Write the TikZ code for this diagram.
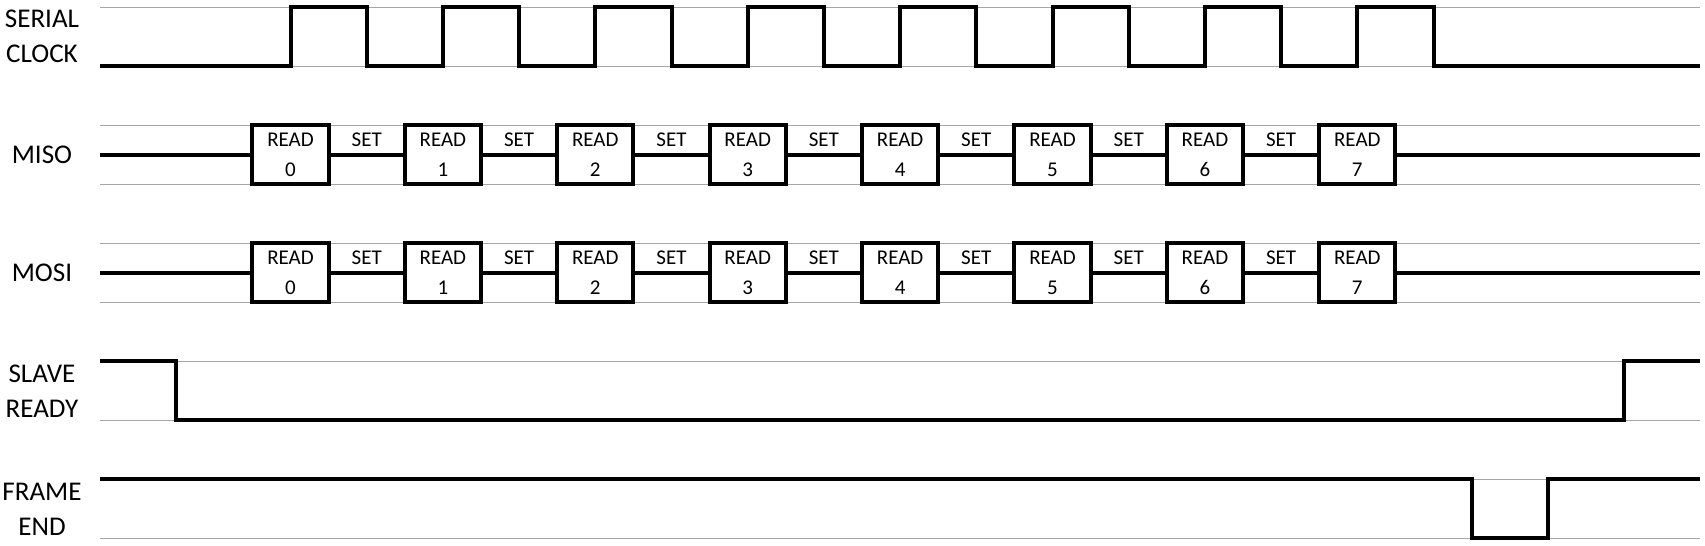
\documentclass[tikz,border=0pt]{standalone}
\usepackage{fontspec}
\setmainfont{Carlito}
\usetikzlibrary{calc}
\tikzset{
	gridline/.style={line width=0.02cm, color=black!35},
	sig/.style={line width=0.08cm, line join=miter},
	siglabel/.style={inner sep=0, align=center, font=\fontsize{15.4}{19.9}\selectfont},
	bitbox/.style={draw, line width=0.08cm, minimum width=1.524cm, minimum height=1.181cm, inner sep=0, align=center, font=\fontsize{11.95}{17.07}\selectfont},
	bittext/.style={inner sep=0, font=\fontsize{11.95}{17.07}\selectfont}
}

\begin{document}
\begin{tikzpicture}[x=0.02cm, y=-0.02cm]
			%%%%% START %%%%%
			\useasboundingbox (0,0) rectangle (1705,545);
			
			\foreach \i in {0,...,9}
				\draw[gridline] (100,{7+59.04*\i}) -- (1700,{7+59.04*\i});
			
			\node[siglabel] (clk) at (42, 36.5) {SERIAL\\CLOCK};
			\node[siglabel] (miso) at (42, 154.6) {MISO};
			\node[siglabel] (mosi) at (42, 272.7) {MOSI};
			\node[siglabel] (rdy) at (42, 390.8) {SLAVE\\READY};
			\node[siglabel] (fend) at (42, 508.9) {FRAME\\END};
			
			\draw[sig] (100, 66) \foreach \k in {0,...,7} {-- ({290.5+152.4*\k}, 66) -- ++(0,-59) -- ++(76.2,0) -- ++(0,59)} -- (1700, 66);
			
			\foreach \k in {0,...,7} {
				\node[bitbox] (mi\k) at ({290.5+152.4*\k}, 154.6) {READ\\\k};
				\node[bitbox] (mo\k) at ({290.5+152.4*\k}, 272.7) {READ\\\k};
			}
			
			\draw[sig] (100, 154.6) -- (mi0.west);
			\draw[sig] (100, 272.7) -- (mo0.west);
			\foreach \k [evaluate=\k as \j using int(\k+1)] in {0,...,6} {
				\draw[sig] (mi\k.east) -- (mi\j.west);
				\draw[sig] (mo\k.east) -- (mo\j.west);
				\node[bittext] (miset\k) at ($(mi\k.east)!0.5!(mi\j.west)+(0,-15)$) {SET};
				\node[bittext] (moset\k) at ($(mo\k.east)!0.5!(mo\j.west)+(0,-15)$) {SET};
			}
			\draw[sig] (mi7.east) -- (1700, 154.6);
			\draw[sig] (mo7.east) -- (1700, 272.7);
			
			\draw[sig] (100, 361.2) -- (176.2, 361.2) -- (176.2, 420.3) -- (1624, 420.3) -- (1624, 361.2) -- (1700, 361.2);
			
			\draw[sig] (100, 479.3) -- (1471.6, 479.3) -- (1471.6, 538.4) -- (1547.8, 538.4) -- (1547.8, 479.3) -- (1700, 479.3);
			
			%%%%% END %%%%%
\end{tikzpicture}
\end{document}
